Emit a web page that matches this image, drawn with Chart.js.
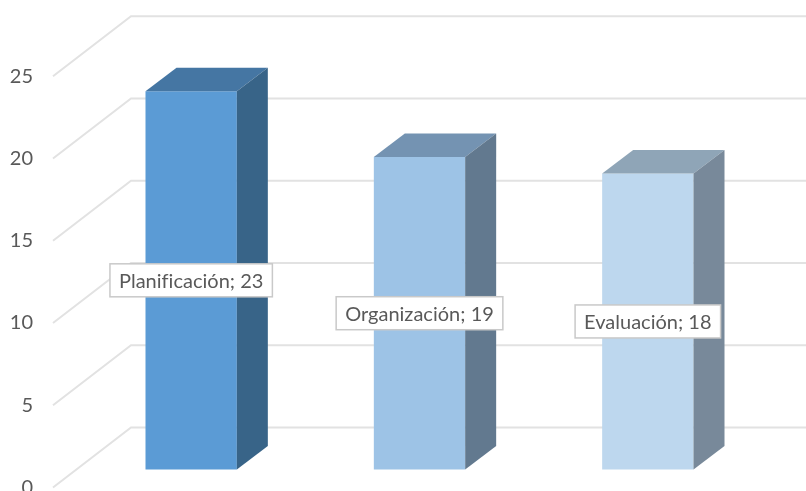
<!DOCTYPE html>
<html>
<head>
<meta charset="utf-8">
<title>Chart</title>
<script src="https://cdn.jsdelivr.net/npm/chart.js@4"></script>
<style>
  html, body { margin: 0; padding: 0; background: #fff; overflow: hidden; }
  canvas { display: block; filter: blur(0.5px); }
</style>
</head>
<body>
<canvas id="chart" width="806" height="491"></canvas>
<script>
const categories = ["Planificación", "Organización", "Evaluación"];
const values = [23, 19, 18];
const frontColors = ["#5b9bd5", "#9dc3e6", "#bdd7ee"];
const topColors = ["#4576a3", "#7493b2", "#8fa5b7"];
const sideColors = ["#386488", "#62798f", "#78899a"];

const textColor = "#595959";
const fontFamily = "Lato, 'Open Sans', sans-serif";
const barDepth = { x: 31, y: 23.5 }; // 3D offset of the bars
const wallDepth = { x: 78, y: 60 }; // 3D offset of the back wall

// Back wall and floor lines, hung from the tick positions of the label axis
const wallPlugin = {
  id: "wall",
  beforeDatasetsDraw(chart) {
    const { ctx, scales } = chart;
    const axis = scales.yLabels;
    ctx.save();
    ctx.strokeStyle = "#e2e2e2";
    ctx.lineWidth = 2;
    axis.ticks.forEach(tick => {
      const y = axis.getPixelForValue(tick.value);
      ctx.beginPath();
      ctx.moveTo(53, y);
      ctx.lineTo(53 + wallDepth.x, y - wallDepth.y);
      ctx.lineTo(chart.width, y - wallDepth.y);
      ctx.stroke();
    });
    ctx.restore();
  }
};

// Top and side faces of each bar, then the value boxes
const barFacesPlugin = {
  id: "barFaces",
  afterDatasetsDraw(chart) {
    const { ctx } = chart;
    const bars = chart.getDatasetMeta(0).data;
    ctx.save();
    bars.forEach((bar, i) => {
      const right = bar.x + bar.width / 2;
      const left = bar.x - bar.width / 2;

      ctx.fillStyle = topColors[i];
      ctx.beginPath();
      ctx.moveTo(left, bar.y);
      ctx.lineTo(left + barDepth.x, bar.y - barDepth.y);
      ctx.lineTo(right + barDepth.x, bar.y - barDepth.y);
      ctx.lineTo(right, bar.y);
      ctx.closePath();
      ctx.fill();

      ctx.fillStyle = sideColors[i];
      ctx.beginPath();
      ctx.moveTo(right, bar.y);
      ctx.lineTo(right + barDepth.x, bar.y - barDepth.y);
      ctx.lineTo(right + barDepth.x, bar.base - barDepth.y);
      ctx.lineTo(right, bar.base);
      ctx.closePath();
      ctx.fill();
    });

    ctx.font = "20px " + fontFamily;
    ctx.letterSpacing = "0.01px"; // keeps the "fi" as two letters
    ctx.textAlign = "center";
    ctx.textBaseline = "middle";
    bars.forEach((bar, i) => {
      const text = categories[i] + "; " + values[i];
      const boxW = ctx.measureText(text).width + 18;
      const boxH = 33;
      const midY = (bar.y + bar.base) / 2;
      ctx.fillStyle = "#fff";
      ctx.strokeStyle = "#c9c9c9";
      ctx.lineWidth = 1.5;
      ctx.fillRect(bar.x - boxW / 2, midY - boxH / 2, boxW, boxH);
      ctx.strokeRect(bar.x - boxW / 2, midY - boxH / 2, boxW, boxH);
      ctx.fillStyle = textColor;
      ctx.fillText(text, bar.x, midY + 1);
    });
    ctx.restore();
  }
};

new Chart(document.getElementById("chart"), {
  type: "bar",
  data: {
    labels: categories,
    datasets: [{
      data: values,
      yAxisID: "y",
      backgroundColor: frontColors,
      barPercentage: 0.4,
      categoryPercentage: 1
    }]
  },
  options: {
    responsive: false,
    animation: false,
    layout: { padding: { right: 44 } },
    plugins: {
      legend: { display: false },
      tooltip: { enabled: false }
    },
    scales: {
      x: { display: false },
      // bars: 0 sits at y=469.5 on the canvas
      y: { display: false, min: -1.307, max: 28.54 },
      // tick labels: same unit size, 0 sits lower, on the front of the floor
      yLabels: {
        position: "left",
        min: -0.213,
        max: 29.635,
        border: { display: false },
        grid: { display: false, drawTicks: false },
        ticks: {
          stepSize: 5,
          includeBounds: false,
          color: textColor,
          padding: 44,
          font: { family: fontFamily, size: 20 }
        },
        afterFit(scale) {
          scale.width = 77;
          scale.paddingTop = 0;
          scale.paddingBottom = 0;
        }
      }
    }
  },
  plugins: [wallPlugin, barFacesPlugin]
});
</script>
</body>
</html>
